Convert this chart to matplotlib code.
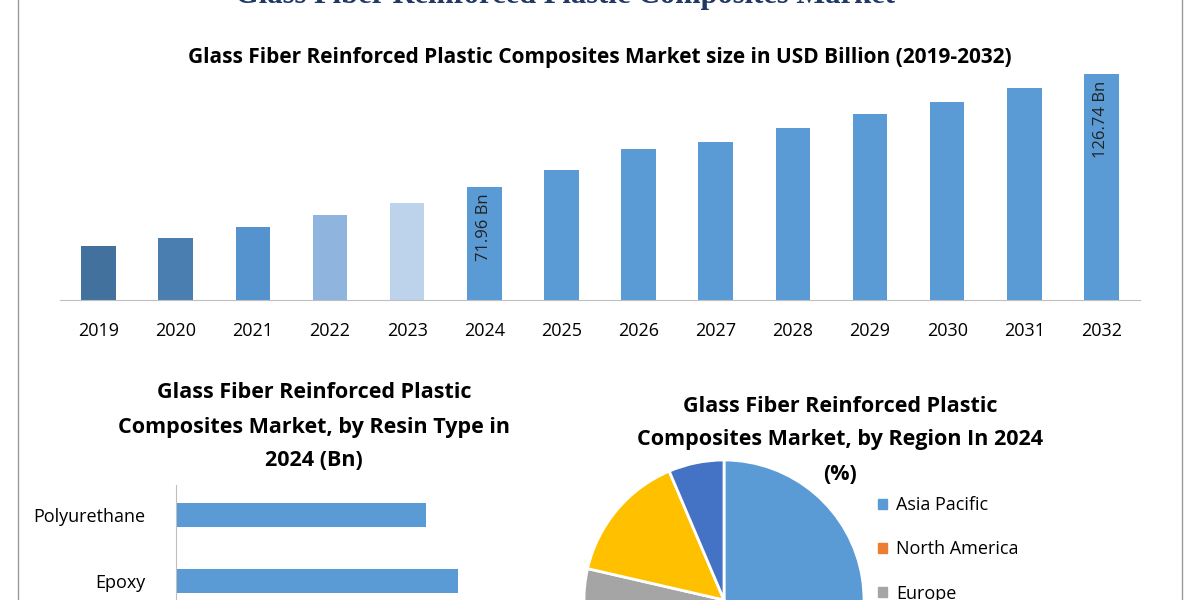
import matplotlib
matplotlib.use("Agg")
import matplotlib.pyplot as plt
from matplotlib.patches import Rectangle, Patch

plt.rcParams['font.family'] = ['Liberation Sans Narrow', 'Liberation Sans', 'DejaVu Sans']

years = ['2019','2020','2021','2022','2023','2024','2025','2026','2027','2028','2029','2030','2031','2032']
market = [34.4, 39.5, 46.5, 54.1, 61.8, 71.96, 82.8, 96.2, 100.6, 109.5, 118.5, 126.1, 135.0, 143.9]
bar_labels = {5: '71.96 Bn', 13: '126.74 Bn'}
bar_colors = ['#41719C', '#4A7EB0', '#5593CF', '#8FB4DE', '#BDD3EC'] + ['#5B9BD5'] * 9

resins = ['Polyurethane', 'Epoxy']
resin_vals = [6.25, 7.05]

regions = ['Asia Pacific', 'North America', 'Europe', 'Latin America', 'Middle East & Africa']
region_share = [45.0, 25.0, 8.6, 15.0, 6.4]
region_colors = ['#5B9BD5', '#ED7D31', '#A5A5A5', '#FFC000', '#4472C4']

W, H = 1200, 600
fig = plt.figure(figsize=(12, 6), dpi=100)
def box(l, t, w, h):
    return [l / W, (H - t - h) / H, w / W, h / H]

# frame
fig.add_artist(Rectangle((18 / W, -0.01), 1164 / W, 1.02, transform=fig.transFigure,
                         fill=False, edgecolor='#9a9a9a', lw=1))
fig.text(565 / W, 1 - (-4) / H, 'Glass Fiber Reinforced Plastic Composites Market', ha='center', va='center',
         fontsize=22, fontweight='bold', color='#1F3864', family=['Liberation Serif', 'DejaVu Serif'])

# bar chart
ax = fig.add_axes(box(60, 60, 1080, 240))
x = range(len(years))
ax.bar(x, market, width=0.45, color=bar_colors)
ax.set_xlim(-0.5, len(years) - 0.5)
ax.set_ylim(0, 240 * 71.96 / 113)
ax.set_xticks(list(x))
ax.set_xticklabels(years, fontsize=13, family=['Open Sans', 'DejaVu Sans'])
ax.tick_params(axis='x', length=0, pad=16)
ax.set_yticks([])
for s in ['top', 'right', 'left']:
    ax.spines[s].set_visible(False)
ax.spines['bottom'].set_color('#bfbfbf')
for i, t in bar_labels.items():
    ax.text(i, market[i] - 4, t, rotation=90, ha='center', va='top', fontsize=12,
            color='#222222', family=['Open Sans', 'DejaVu Sans'])
fig.text(600 / W, 1 - 57 / H, 'Glass Fiber Reinforced Plastic Composites Market size in USD Billion (2019-2032)',
         ha='center', va='center', fontsize=15, fontweight='bold', family=['Open Sans', 'DejaVu Sans'])

# horizontal bars
ah = fig.add_axes(box(176, 485, 400, 200))
ah.barh(range(len(resins)), resin_vals, height=0.36, color='#5B9BD5')
ah.set_ylim(-0.4545 + 200 / 66, -0.4545)
ah.set_xlim(0, 10)
ah.set_yticks(range(len(resins)))
ah.set_yticklabels(resins, fontsize=13, family=['Open Sans', 'DejaVu Sans'])
ah.tick_params(axis='y', length=0, pad=22)
ah.set_xticks([])
for s in ['top', 'right', 'bottom']:
    ah.spines[s].set_visible(False)
ah.spines['left'].set_color('#bfbfbf')
for yy, t in zip([393, 427, 461], ['Glass Fiber Reinforced Plastic', 'Composites Market, by Resin Type in', '2024 (Bn)']):
    fig.text(314 / W, 1 - yy / H, t, ha='center', va='center', fontsize=15.5, fontweight='bold',
             family=['Open Sans', 'DejaVu Sans'])

# pie
ap = fig.add_axes(box(584, 460, 280, 280))
ap.pie(region_share, colors=region_colors, startangle=90, counterclock=False,
       wedgeprops=dict(edgecolor='white', linewidth=2))
ap.set_xlim(-1, 1)
ap.set_ylim(-1, 1)
ap.set_aspect('equal')
for yy, t in zip([407, 440, 474], ['Glass Fiber Reinforced Plastic', 'Composites Market, by Region In 2024', '(%)']):
    fig.text(840 / W, 1 - yy / H, t, ha='center', va='center', fontsize=15.5, fontweight='bold',
             family=['Open Sans', 'DejaVu Sans'])
handles = [Patch(color=c) for c in region_colors]
fig.legend(handles, regions, loc='upper left', bbox_to_anchor=(862 / W, 1 - 480 / H), frameon=False,
           prop=dict(size=13, family=['Open Sans', 'DejaVu Sans']), handlelength=0.5, handleheight=0.5,
           labelspacing=1.45, handletextpad=0.5)

fig.savefig('out.png', dpi=100, facecolor='white')
